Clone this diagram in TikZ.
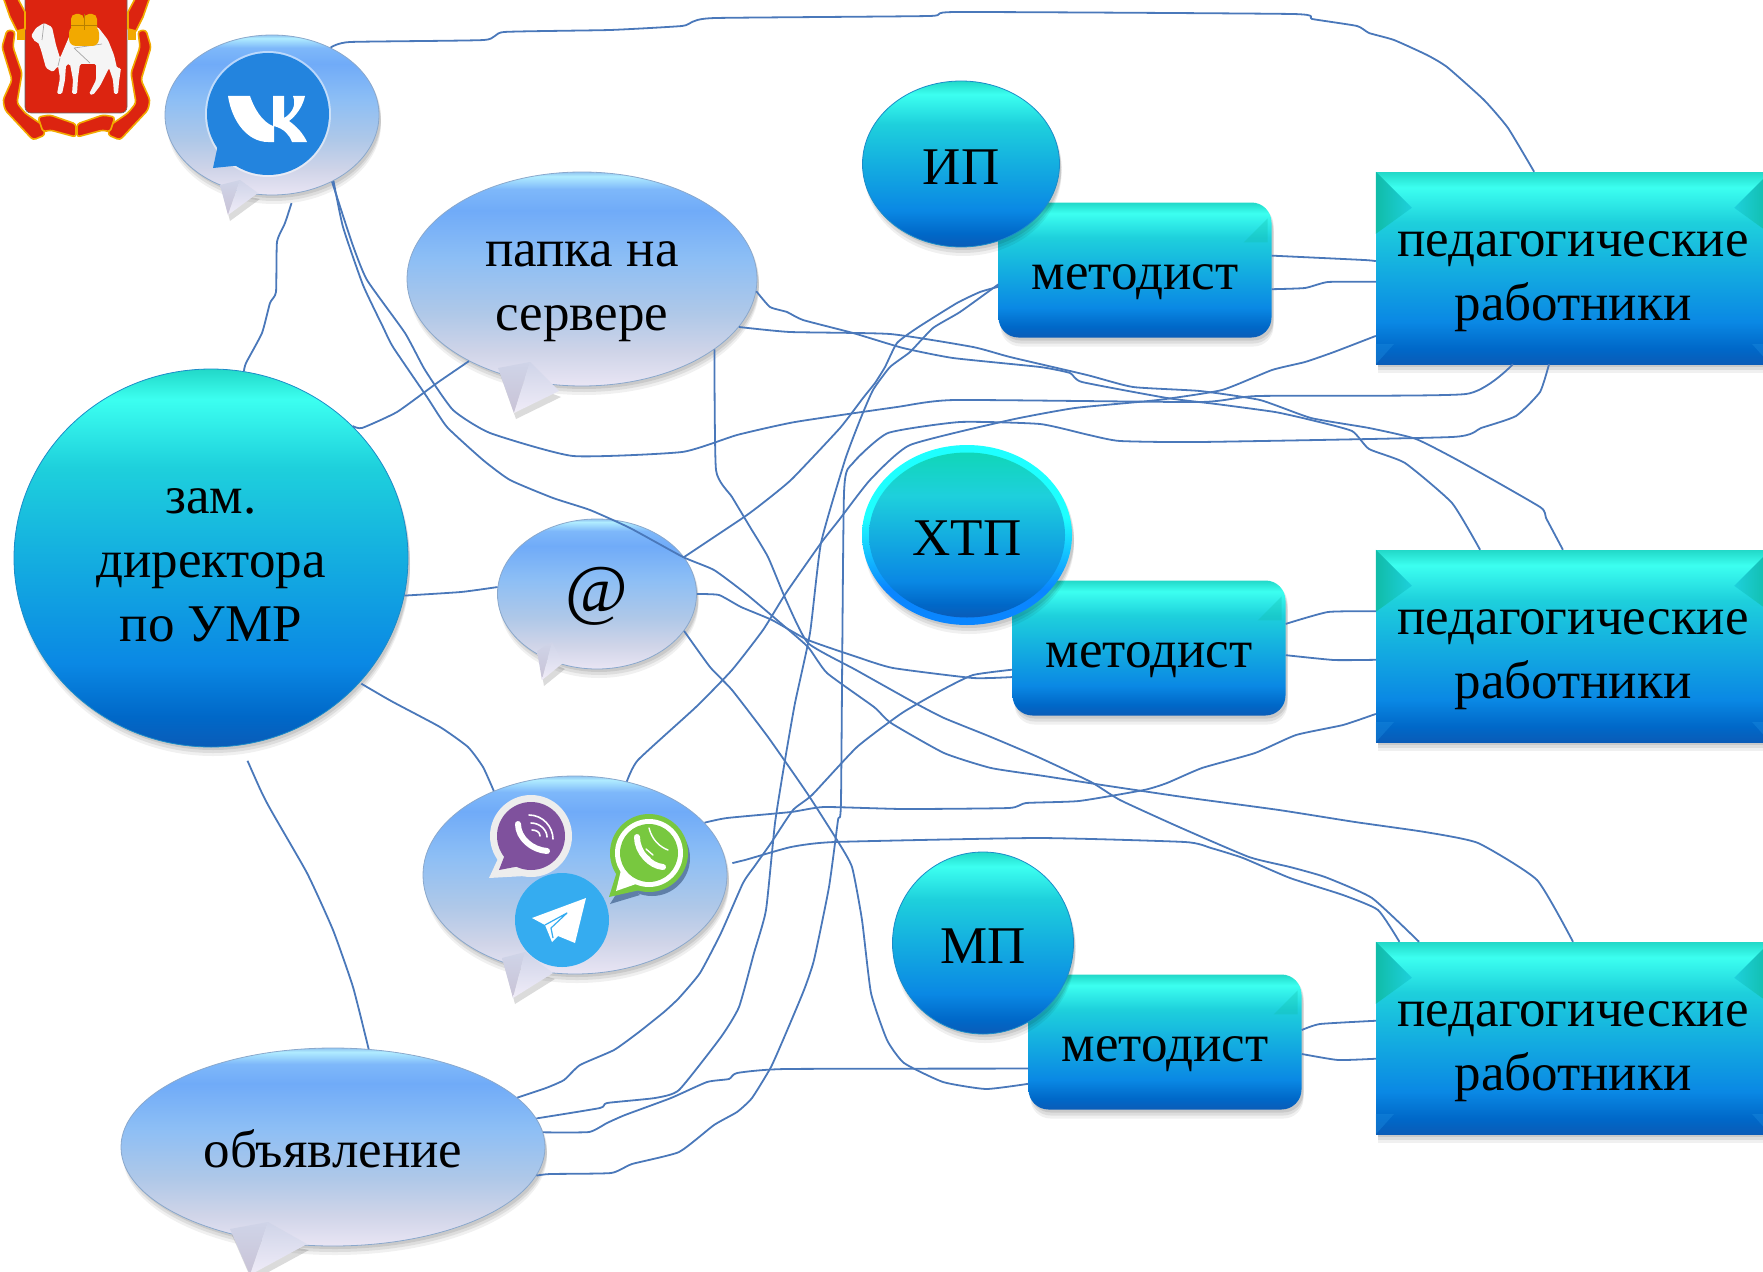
\documentclass[tikz,border=0pt]{standalone}
\usepackage{fontspec}
\setmainfont{Liberation Serif}
\usetikzlibrary{shapes.geometric,shadows}

\definecolor{wirecol}{HTML}{4A78BA}
\definecolor{crestred}{HTML}{DC2410}
\definecolor{crestgold}{HTML}{F2A900}
\definecolor{edgeblue}{HTML}{8AA8CC}
\definecolor{edgeteal}{HTML}{1C8CC8}
\definecolor{tailgrey}{HTML}{C9C3D6}
\definecolor{tailpale}{HTML}{F0ECF8}
\definecolor{vkblue}{HTML}{2384DE}
\definecolor{violetvb}{HTML}{7F519D}
\definecolor{wagreen}{HTML}{78C83F}
\definecolor{tgblue}{HTML}{35ACF0}
\definecolor{wash}{HTML}{5F7FA8}
\definecolor{bevelteal}{HTML}{10BCA8}
\definecolor{bevelblue}{HTML}{1C8CE0}
\definecolor{rimtop}{HTML}{1EFFFF}
\definecolor{rimbot}{HTML}{0A86FF}
\definecolor{bub1}{HTML}{E9E5F4}
\definecolor{bub2}{HTML}{CFD4E8}
\definecolor{bub3}{HTML}{AFC8E8}
\definecolor{bub4}{HTML}{8CBEF5}
\definecolor{bub5}{HTML}{70ABF8}
\definecolor{bub6}{HTML}{7EB8FA}
\definecolor{bub7}{HTML}{B0ECFF}
\definecolor{bub8}{HTML}{90C4F0}
\definecolor{tl1}{HTML}{0A5CB8}
\definecolor{tl2}{HTML}{0068C8}
\definecolor{tl3}{HTML}{0A88E4}
\definecolor{tl4}{HTML}{14AEE0}
\definecolor{tl5}{HTML}{1ED0DC}
\definecolor{tl6}{HTML}{3CFFF0}
\definecolor{tl7}{HTML}{22D8C8}
\definecolor{tl8}{HTML}{10D6B8}

\pgfdeclareverticalshading{bubbleshade}{100bp}{color(0bp)=(bub1); color(25bp)=(bub1);
  color(33bp)=(bub2); color(42bp)=(bub3); color(55bp)=(bub4);
  color(66bp)=(bub5); color(71bp)=(bub6); color(74bp)=(bub7); color(75bp)=(bub8); color(100bp)=(bub8)}
\pgfdeclareverticalshading{tealshade}{100bp}{color(0bp)=(tl1); color(25bp)=(tl1);
  color(29bp)=(tl2); color(36bp)=(tl3); color(50bp)=(tl4); color(62bp)=(tl5);
  color(71bp)=(tl6); color(75bp)=(tl7); color(100bp)=(tl7)}
\pgfdeclareverticalshading{xtpshade}{100bp}{color(0bp)=(tl1); color(25bp)=(tl1);
  color(29bp)=(tl2); color(36bp)=(tl3); color(50bp)=(tl4); color(62bp)=(tl5);
  color(75bp)=(tl8); color(100bp)=(tl8)}
\pgfdeclareverticalshading{rimshade}{100bp}{color(0bp)=(rimbot); color(25bp)=(rimbot);
  color(35bp)=(rimbot); color(55bp)=(rimtop); color(100bp)=(rimtop)}

\newcommand{\dn}[1]{\rule{0pt}{#1pt}}
% base left, tip, base right, inner point
\newcommand{\bubtail}[4]{
  \fill[black,opacity=.14] ([shift={(2pt,-6pt)}]#1) -- ([shift={(2pt,-6pt)}]#2) -- ([shift={(2pt,-6pt)}]#3) -- cycle;
  \shade[top color=bub2,bottom color=tailgrey] (#1) -- (#2) -- (#4) -- cycle;
  \shade[top color=bub2,bottom color=tailpale] (#2) -- (#3) -- (#4) -- cycle;
}

\tikzset{
  softshadow/.style={
    drop shadow={shadow xshift=2pt,shadow yshift=-3pt,opacity=.09,fill=black},
    drop shadow={shadow xshift=2pt,shadow yshift=-6pt,opacity=.08,fill=black},
    drop shadow={shadow xshift=2pt,shadow yshift=-9pt,opacity=.06,fill=black}},
  bigtext/.style={font=\fontsize{53}{64}\selectfont,align=center,text=black},
  bubble/.style={ellipse,shading=bubbleshade,draw=edgeblue,line width=.8pt,inner sep=0pt,bigtext,softshadow},
  oval/.style={ellipse,shading=tealshade,draw=edgeteal,line width=.8pt,inner sep=0pt,bigtext,softshadow},
  metbox/.style={rectangle,rounded corners=20pt,shading=tealshade,inner sep=0pt,
    minimum width=273pt,minimum height=135pt,bigtext,softshadow},
  pedbox/.style={rectangle,shading=tealshade,inner sep=0pt,
    minimum width=394pt,minimum height=192pt,bigtext,softshadow},
  wire/.style={draw=wirecol,line width=1.8pt,smooth,tension=.3,line join=round},
  ribbon/.style={fill=crestred,draw=crestgold,line width=1.6pt,line join=round},
}

\begin{document}
\begin{tikzpicture}[x=1pt,y=-1pt]
\useasboundingbox (0,0) rectangle (1763,1271);

% crest
\fill[crestred,draw=black!60,line width=.6pt,rounded corners=6pt] (25,-8) -- (127,-8) -- (127,113) -- (25,113) -- cycle;
\foreach \s in {1,-1}{
  \begin{scope}[xshift=76.5pt,xscale=\s,xshift=-76.5pt]
    \filldraw[ribbon] (3,-3) -- (17,-3) -- (25,12) -- (25,29) -- (17,31) -- (10,17) -- cycle;
    \filldraw[ribbon,rounded corners=3pt] (7,30) -- (2,47) -- (12,80) -- (3,100) -- (5,110) -- (33,140) -- (45,135)
      -- (43,125) -- (38,122) -- (25,113) -- (17,103) -- (22,73) -- (13,47) -- (15,31) -- cycle;
    \filldraw[ribbon,rounded corners=3pt] (38,117) -- (50,115) -- (76,124) -- (76,137) -- (50,130) -- (43,132) -- cycle;
    \fill[crestgold] (17,30) rectangle (25,40);
  \end{scope}
}
\fill[black!4,rounded corners=1.5pt] (31,36) -- (36,28) -- (44,23) -- (52,27) -- (56,45) -- (60,58) -- (66,44) -- (72,30) -- (98,27)
  -- (108,40) -- (114,55) -- (117,68) -- (121,68) -- (119,82) -- (118,94) -- (114,94) -- (113,80) -- (109,68) -- (100,86) -- (93,95)
  -- (89,94) -- (96,80) -- (96,64) -- (80,64) -- (78,78) -- (77,94) -- (72,94) -- (73,80) -- (70,64) -- (66,65) -- (65,80) -- (62,94)
  -- (57,94) -- (60,78) -- (58,66) -- (53,72) -- (46,68) -- (41,50) -- (38,42) -- (35,42) -- (33,38) -- cycle;
\draw[black!35,line width=.7pt] (74,48) -- (90,63) (74,48) -- (102,44) (44,23) -- (42,40) (60,58) -- (58,66);
\fill[crestgold,rounded corners=5pt] (71,14) rectangle (84,32);
\fill[crestgold,rounded corners=5pt] (84,14) rectangle (97,32);
\fill[crestgold,rounded corners=7pt] (69,26) rectangle (99,46);
\draw[black!25!crestgold,line width=.7pt] (84,14) -- (84,30) (71,25) -- (97,25);

% bubbles
\node[bubble,minimum width=214pt,minimum height=160pt] (vk) at (272,115) {};
\node[bubble,minimum width=350pt,minimum height=214pt] (papka) at (582,279) {\dn{50}папка на\\сервере};
\node[bubble,minimum width=199pt,minimum height=150pt,font=\fontsize{68}{70}\selectfont] (mail) at (597,594) {\dn{50}@};
\node[bubble,minimum width=304pt,minimum height=198pt] (msg) at (575,875) {};
\node[bubble,minimum width=424pt,minimum height=198pt] (obyav) at (333,1147) {\dn{42}объявление};

% tails of the bubbles
\bubtail{220,185}{228,215}{258,193}{240,180}
\bubtail{498,368}{514,413}{559,391}{530,362}
\bubtail{537,651}{542,680}{563,663}{552,642}
\bubtail{502,958}{513,998}{553,973}{525,952}
\bubtail{230,1229}{250,1275}{307,1244}{268,1222}

% vk icon
\fill[white,opacity=.5] (268,114) circle (63);
\fill[vkblue] (268,114) circle (61);
\fill[vkblue] (213,168) -- (219,140) -- (243,165) -- cycle;
\fill[white] (228,96) -- (250,96) .. controls (254,108) and (262,122) .. (273,126) -- (273,96) -- (284,96) -- (284,118)
  .. controls (291,114) and (297,106) .. (293,96) -- (305,96) .. controls (303,106) and (296,116) .. (289,121)
  .. controls (296,126) and (303,133) .. (307,142) -- (292,142) .. controls (289,134) and (284,129) .. (274,126) -- (274,142)
  -- (268,142) .. controls (248,142) and (232,122) .. (228,96) -- cycle;

% viber
\fill[black!7] (531,836) circle (41);
\fill[black!7] (489,878) -- (502,850) -- (525,876) -- cycle;
\fill[violetvb] (531,836) circle (34);
\fill[violetvb] (499,870) -- (506,852) -- (520,866) -- cycle;
\draw[white,line width=6pt,line cap=round] (518,824) .. controls (518,838) and (532,850) .. (547,851);
\draw[white,line width=1.6pt,line cap=round] (529,815) .. controls (543,815) and (553,827) .. (553,839)
  (531,823) .. controls (540,823) and (547,830) .. (547,837)
  (532,830) .. controls (536,830) and (540,832) .. (540,836);

% whatsapp
\fill[wash] (652,858) circle (38);
\fill[wash] (610,904) -- (625,880) -- (640,895) -- cycle;
\fill[wagreen] (649,853) circle (39);
\fill[wagreen] (609,897) -- (619,865) -- (640,890) -- cycle;
\fill[white] (649,853) circle (34);
\fill[white] (616,891) -- (622,866) -- (636,884) -- cycle;
\fill[wagreen] (649,853) circle (29);
\draw[white,line width=6pt,line cap=round] (637,837) .. controls (637,852) and (650,866) .. (663,867);
\draw[white,line width=1.4pt,line cap=round] (649,828) .. controls (652,840) and (660,847) .. (668,850)
  (646,849) -- (653,855) (645,854) -- (650,858);

% telegram
\fill[tgblue] (562,920) circle (47);
\fill[white] (586,898) -- (532,918) -- (545,925) -- (552,942) -- (558,936) -- (575,943) -- cycle;
\draw[tgblue,line width=1.2pt,line join=round] (545,925) -- (567,913) -- (551,928) -- (553,938);

% methodist boxes and teachers
\node[metbox] (met1) at (1135,270) {\dn{50}методист};
\node[metbox] (met2) at (1149,648) {\dn{50}методист};
\node[metbox] (met3) at (1165,1042) {\dn{50}методист};
\node[pedbox] (ped1) at (1573,268) {\dn{52}педагогические\\работники};
\node[pedbox] (ped2) at (1573,646) {\dn{52}педагогические\\работники};
\node[pedbox] (ped3) at (1573,1038) {\dn{52}педагогические\\работники};
\foreach \n in {ped1,ped2,ped3}{
  \shade[left color=bevelteal,right color=tl5] (\n.north west) -- ++(36,36) -- ++(-36,26) -- cycle;
  \shade[right color=bevelteal,left color=tl5] (\n.north east) -- ++(-36,36) -- ++(36,26) -- cycle;
  \fill[bevelblue,opacity=.4] (\n.south west) -- ++(18,-20) -- ++(-18,0) -- cycle;
  \fill[bevelblue,opacity=.4] (\n.south east) -- ++(-18,-20) -- ++(18,0) -- cycle;
}
\foreach \n in {met1,met2,met3}{
  \fill[bevelteal,opacity=.3] ([xshift=-4pt,yshift=-16pt]\n.north east) -- ++(-24,24) -- ++(24,0) -- cycle;
}

% ovals
\node[oval,minimum width=394pt,minimum height=378pt] (zam) at (211,558) {\dn{40}зам.\\директора\\по УМР};
\node[oval,minimum width=197pt,minimum height=166pt] (ip) at (961,164) {\dn{41}ИП};
\node[ellipse,shading=rimshade,inner sep=0pt,softshadow,minimum width=210pt,minimum height=180pt] (xtprim) at (967,535) {};
\node[ellipse,shading=xtpshade,inner sep=0pt,bigtext,minimum width=196pt,minimum height=165pt] (xtp) at (967,535) {\dn{41}ХТП};
\node[oval,minimum width=181pt,minimum height=182pt] (mp) at (983,943) {\dn{41}МП};

% connectors
\draw[wire,shorten <=10pt] plot coordinates {(vk.-74) (285,223) (277,242) (276,292) (270,303) (262,333) (246,363) (zam.80)};
\draw[wire] plot coordinates {(zam.43) (362,428) (397,412) (437,383) (papka.216)};
\draw[wire] plot coordinates {(zam.-11) (461,592) (mail.176)};
\draw[wire,shorten <=2pt] plot coordinates {(zam.-40) (393,702) (440,727) (468,747) (483,767) (msg.134)};
\draw[wire,shorten <=17pt] plot coordinates {(zam.-81) (267,803) (307,873) (333,930) (353,987) (obyav.70)};

\draw[wire] plot coordinates {(vk.49) (350,42) (484,40) (504,32) (610,30) (682,26) (692,22) (716,18) (929,16) (957,12) (1292,14) (1312,19)
  (1357,26) (1369,33) (1394,40) (1427,55) (1447,67) (1484,100) (1508,128) (ped1.112)};
\draw[wire] plot coordinates {(vk.-47) (343,227) (363,285) (383,327) (393,347) (427,397) (447,427) (483,460) (510,480) (553,498) (590,510) (630,528)
  (683,557) (714,570) (745,593) (777,620) (808,647) (827,673) (874,707) (891,723) (944,753) (991,768) (1044,776) (1102,785) (1149,792) (1190,798)
  (1279,810) (1355,822) (1425,832) (1478,843) (1537,880) (ped3.90)};
\draw[wire] plot coordinates {(vk.-48) (352,243) (367,280) (405,333) (425,370) (453,410) (490,433) (573,456) (682,452) (737,435) (795,422) (897,407)
  (955,400) (1200,402) (1258,396) (1466,394) (ped1.238)};

\draw[wire] plot coordinates {(papka.-4) (770,307) (787,312) (803,320) (853,333) (903,348) (953,358) (1040,367) (1070,373) (1082,382) (1167,398)
  (1216,404) (1275,412) (1311,420) (1352,431) (1369,449) (1405,463) (1452,503) (ped2.134)};
\draw[wire] plot coordinates {(papka.-17) (790,332) (890,334) (973,347) (1010,357) (1087,375) (1133,387) (1200,391) (1260,400) (1311,418) (1369,428)
  (1416,439) (1463,463) (1540,507) (1546,518) (ped2.96)};
\draw[wire] plot coordinates {(papka.-28) (716,470) (732,497) (750,527) (768,557) (786,600) (808,643) (856,670) (915,703) (944,718) (991,737) (1038,757)
  (1091,782) (1120,800) (1179,827) (1249,857) (1290,867) (1325,877) (1372,898) (ped3.148)};

\draw[wire] plot coordinates {(mail.23) (747,515) (773,495) (793,478) (840,428) (863,398) (875,383) (885,367) (897,343) (917,328) (957,303) (980,292) (met1.187)};
\draw[wire] plot coordinates {(mail.0) (719,595) (741,607) (772,620) (808,640) (857,657) (893,668) (973,678) (met2.192)};
\draw[wire] plot coordinates {(mail.-23) (710,667) (732,690) (768,737) (807,793) (837,840) (852,867) (862,920) (871,993) (887,1040) (904,1063)
  (943,1082) (986,1089) (met3.197)};

\draw[wire] plot coordinates {(msg.61) (638,760) (696,707) (732,670) (763,630) (786,593) (821,543) (839,520) (870,480) (910,445) (1010,420) (1075,408)
  (1158,400) (1222,390) (1272,370) (1305,362) (1334,352) (ped1.199)};
\draw[wire] plot coordinates {(msg.22) (727,818) (791,812) (824,807) (903,809) (1009,808) (1026,803) (1079,801) (1144,790) (1167,783) (1202,768)
  (1255,753) (1296,735) (1343,725) (ped2.199)};
\draw[wire,shorten <=6pt] plot coordinates {(msg.4) (745,860) (791,847) (835,842) (1038,838) (1185,842) (1211,848) (1243,858) (1290,878) (1343,895) (1378,910) (ped3.151)};

\draw[wire] plot coordinates {(obyav.15) (546,1088) (564,1080) (580,1065) (614,1050) (639,1032) (664,1012) (679,998) (700,973) (721,933) (743,883)
  (754,867) (771,843) (793,810) (812,795) (857,747) (902,713) (942,690) (973,675) (met2.189)};
\draw[wire] plot coordinates {(obyav.8) (600,1108) (607,1103) (655,1098) (679,1090) (721,1037) (739,1007) (754,953) (766,910) (775,823) (785,760)
  (795,703) (810,633) (821,543) (845,460) (860,420) (873,390) (890,367) (910,352) (933,328) (960,312) (met1.186)};
\draw[wire] plot coordinates {(obyav.4) (589,1132) (607,1123) (625,1115) (671,1098) (707,1082) (729,1079) (737,1073) (786,1069) (met3.191)};
\draw[wire] plot coordinates {(obyav.-8) (550,1174) (611,1173) (632,1164) (679,1152) (714,1125) (737,1112) (752,1098) (771,1067) (786,1033) (804,990)
  (814,960) (829,887) (838,820) (841,800) (844,493) (853,463) (888,433) (960,422) (1040,424) (1089,435) (1120,441) (1200,442) (1452,437) (1481,428)
  (1516,416) (1540,392) (ped1.256)};

\draw[wire] plot coordinates {(met1.6) (1364,260) (ped1.178)};
\draw[wire] plot coordinates {(met1.-8) (1305,288) (1328,282) (ped1.184)};
\draw[wire] plot coordinates {(met2.10) (1328,612) (ped2.170)};
\draw[wire] plot coordinates {(met2.-3) (1334,660) (ped2.184)};
\draw[wire] plot coordinates {(met3.5) (1320,1024) (ped3.175)};
\draw[wire] plot coordinates {(met3.-5) (1338,1060) (ped3.186)};
\end{tikzpicture}
\end{document}
